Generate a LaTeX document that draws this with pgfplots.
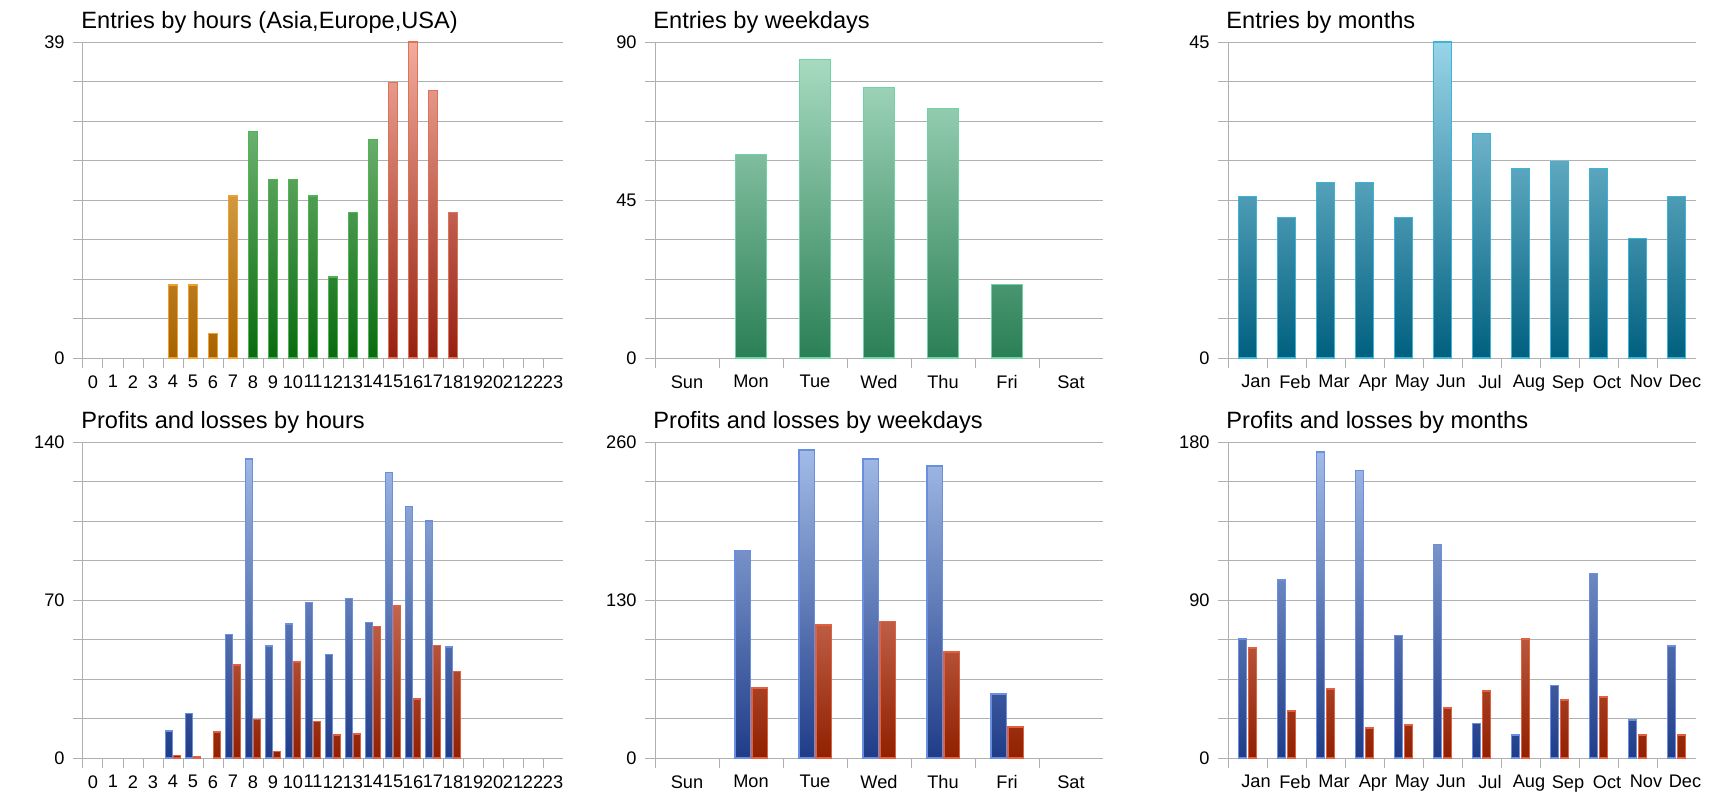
\documentclass[border=0pt]{standalone}
\usepackage{fontspec}
\setmainfont{Liberation Sans}
\usepackage{pgfplots}
\pgfplotsset{compat=1.18}

\definecolor{gridc}{HTML}{B0B0B0}
\definecolor{asiaB}{HTML}{A66200}\definecolor{asiaT}{HTML}{F8CC80}\definecolor{asiaL}{HTML}{F0A030}
\definecolor{eurB}{HTML}{0A6A10}\definecolor{eurT}{HTML}{93CB95}\definecolor{eurL}{HTML}{50B454}
\definecolor{usaB}{HTML}{952010}\definecolor{usaT}{HTML}{F2AC9C}\definecolor{usaL}{HTML}{E07058}
\definecolor{wkB}{HTML}{2A7F55}\definecolor{wkT}{HTML}{AEE0C6}\definecolor{wkL}{HTML}{6FD4A4}
\definecolor{moB}{HTML}{00607F}\definecolor{moT}{HTML}{98D4E8}\definecolor{moL}{HTML}{3CB4D8}
\definecolor{prB}{HTML}{1F3C88}\definecolor{prT}{HTML}{A6BEE9}\definecolor{prL}{HTML}{6A8FE0}
\definecolor{lsB}{HTML}{902000}\definecolor{lsT}{HTML}{F8B0A0}\definecolor{lsL}{HTML}{E06040}

\tikzset{
  gbar/.style n args={3}{draw=#3, line width=0.6pt, fill=none,
    path picture={\shade[path picture={}, draw=none, bottom color=#1, top color=#2]
      (path picture bounding box.south west) rectangle ([yshift=158pt]path picture bounding box.south east);}}
}

\pgfplotsset{
  base/.style={
    scale only axis, height=158pt, ymin=0,
    axis x line=bottom, axis y line=left,
    axis line style={draw=gridc, line width=0.5pt, -},
    ymajorgrids, major grid style={draw=gridc, line width=0.5pt},
    tick align=outside, major tick length=5pt,
    tick style={draw=gridc, line width=0.5pt},
    /pgf/number format/assume math mode=true,
    every tick label/.append style={font=\fontsize{9.1pt}{10pt}\selectfont, text=black},
    yticklabel style={anchor=east, inner sep=0pt, xshift=-4pt},
    xticklabel={\mbox{}},
    extra x tick style={major tick length=0pt, xticklabel style={anchor=north, inner sep=0pt, yshift=-8.5pt}},
    title style={at={(0,1)}, anchor=base west, yshift=1pt, xshift=-1pt, inner sep=0pt,
      font=\fontsize{11.8pt}{13pt}\selectfont},
    clip=false,
  },
  hours/.style={base, width=240pt, xmin=-0.5, xmax=23.5,
    xtick={-0.5,0.5,...,22.5},
    extra x ticks={0,1,...,23},
    extra x tick labels={0,1,2,3,4,5,6,7,8,9,10,11,12,13,14,15,16,17,18,19,20,21,22,23}},
  wdays/.style={base, width=224pt, xmin=-0.5, xmax=6.5,
    xtick={-0.5,0.5,...,5.5},
    extra x ticks={0,1,...,6},
    extra x tick labels={Sun,Mon,Tue,Wed,Thu,Fri,Sat}},
  months/.style={base, width=234pt, xmin=-0.5, xmax=11.5,
    xtick={-0.5,0.5,...,10.5},
    extra x ticks={0,1,...,11},
    extra x tick labels={Jan,Feb,Mar,Apr,May,Jun,Jul,Aug,Sep,Oct,Nov,Dec},
    extra x tick style={xticklabel style={xshift=4.25pt}}},
}

\begin{document}
\begin{tikzpicture}
\useasboundingbox (0,0) rectangle (860pt,400pt);

% ---------- Entries by hours ----------
\begin{axis}[hours, at={(41.5pt,221pt)}, anchor=south west,
  title={Entries by hours (Asia,Europe,USA)}, ymax=39,
  ytick={0,4.875,9.75,14.625,19.5,24.375,29.25,34.125,39},
  yticklabels={0,{},{},{},{},{},{},{},39}]
\addplot[ybar, bar width=4.4pt, bar shift=0pt, gbar={asiaB}{asiaT}{asiaL}] coordinates {(4,9)(5,9)(6,3)(7,20)};
\addplot[ybar, bar width=4.4pt, bar shift=0pt, gbar={eurB}{eurT}{eurL}] coordinates {(8,28)(9,22)(10,22)(11,20)(12,10)(13,18)(14,27)};
\addplot[ybar, bar width=4.4pt, bar shift=0pt, gbar={usaB}{usaT}{usaL}] coordinates {(15,34)(16,39)(17,33)(18,18)};
\end{axis}

% ---------- Entries by weekdays ----------
\begin{axis}[wdays, at={(327.5pt,221pt)}, anchor=south west,
  title={Entries by weekdays}, ymax=90,
  ytick={0,11.25,22.5,33.75,45,56.25,67.5,78.75,90},
  yticklabels={0,{},{},{},45,{},{},{},90}]
\addplot[ybar, bar width=15.6pt, bar shift=0pt, gbar={wkB}{wkT}{wkL}] coordinates {(1,58)(2,85)(3,77)(4,71)(5,21)};
\end{axis}

% ---------- Entries by months ----------
\begin{axis}[months, at={(614pt,221pt)}, anchor=south west,
  title={Entries by months}, ymax=45,
  ytick={0,5.625,11.25,16.875,22.5,28.125,33.75,39.375,45},
  yticklabels={0,{},{},{},{},{},{},{},45}]
\addplot[ybar, bar width=9.15pt, bar shift=0pt, gbar={moB}{moT}{moL}] coordinates {(0,23)(1,20)(2,25)(3,25)(4,20)(5,45)(6,32)(7,27)(8,28)(9,27)(10,17)(11,23)};
\end{axis}

% ---------- P&L by hours ----------
\begin{axis}[hours, at={(41.5pt,21pt)}, anchor=south west,
  title={Profits and losses by hours}, ymax=140,
  ytick={0,17.5,35,52.5,70,87.5,105,122.5,140},
  yticklabels={0,{},{},{},70,{},{},{},140}]
\addplot[ybar, bar width=3.2pt, bar shift=-2pt, gbar={prB}{prT}{prL}] coordinates {(4,12)(5,19.6)(7,54.6)(8,132.5)(9,49.6)(10,59.4)(11,68.8)(12,45.8)(13,70.6)(14,60)(15,126.4)(16,111.4)(17,105)(18,49.2)};
\addplot[ybar, bar width=3.2pt, bar shift=2pt, gbar={lsB}{lsT}{lsL}] coordinates {(4,1)(5,0.6)(6,11.5)(7,41.2)(8,17)(9,2.8)(10,42.5)(11,16.1)(12,10.2)(13,10.6)(14,58.2)(15,67.3)(16,26.1)(17,50)(18,38.5)};
\end{axis}

% ---------- P&L by weekdays ----------
\begin{axis}[wdays, at={(327.5pt,21pt)}, anchor=south west,
  title={Profits and losses by weekdays}, ymax=260,
  ytick={0,32.5,65,97.5,130,162.5,195,227.5,260},
  yticklabels={0,{},{},{},130,{},{},{},260}]
\addplot[ybar, bar width=7.6pt, bar shift=-4.25pt, gbar={prB}{prT}{prL}] coordinates {(1,170.6)(2,253.4)(3,246)(4,240.3)(5,52.7)};
\addplot[ybar, bar width=7.6pt, bar shift=4.25pt, gbar={lsB}{lsT}{lsL}] coordinates {(1,57.6)(2,109.4)(3,112.2)(4,87.2)(5,25.5)};
\end{axis}

% ---------- P&L by months ----------
\begin{axis}[months, at={(614pt,21pt)}, anchor=south west,
  title={Profits and losses by months}, ymax=180,
  ytick={0,22.5,45,67.5,90,112.5,135,157.5,180},
  yticklabels={0,{},{},{},90,{},{},{},180}]
\addplot[ybar, bar width=4.25pt, bar shift=-2.55pt, gbar={prB}{prT}{prL}] coordinates {(0,67.8)(1,101.4)(2,174.3)(3,163.7)(4,70)(5,121.5)(6,19.6)(7,13.1)(8,41.2)(9,105)(10,21.6)(11,63.8)};
\addplot[ybar, bar width=4.25pt, bar shift=2.55pt, gbar={lsB}{lsT}{lsL}] coordinates {(0,62.7)(1,26.8)(2,39.3)(3,17.1)(4,18.8)(5,28.5)(6,38.2)(7,67.8)(8,33)(9,34.7)(10,13.1)(11,13.1)};
\end{axis}
\end{tikzpicture}
\end{document}
